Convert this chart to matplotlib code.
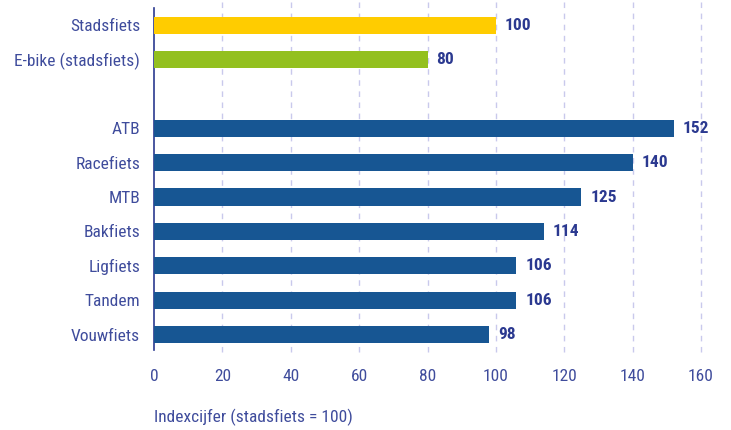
import numpy as np
import matplotlib
matplotlib.use("Agg")
import matplotlib.pyplot as plt

plt.rcParams['font.family'] = ['Roboto Condensed', 'DejaVu Sans']

# data, top to bottom (empty slot between the two groups)
categories = ["Stadsfiets", "E-bike (stadsfiets)", "", "ATB", "Racefiets", "MTB",
              "Bakfiets", "Ligfiets", "Tandem", "Vouwfiets"]
values = [100, 80, None, 152, 140, 125, 114, 106, 106, 98]
colors = ["#FFCC00", "#93C01F", None] + ["#175693"] * 7

label_col = "#3F4C9C"
value_col = "#2B3990"
grid_col = "#C9C9EC"

fig = plt.figure(figsize=(7.31, 4.30), dpi=100)
ax = fig.add_axes([154 / 731, 1 - 350 / 430, (701 - 154) / 731, (350 - 8) / 430])

pos = np.arange(len(categories))
for p, v, c in zip(pos, values, colors):
    if v is None:
        continue
    ax.barh(p, v, height=0.5, color=c, zorder=3)
    ax.annotate(str(v), (v, p), xytext=(6.5, 0), textcoords="offset points",
                va="center", ha="left", fontsize=12.5, fontweight="bold",
                color=value_col)

ax.set_xlim(0, 160)
ax.set_ylim(9.45, -0.5)
ax.set_xticks(np.arange(0, 161, 20))
ax.set_yticks(pos)
ax.set_yticklabels(categories)

# dashed gridlines run a bit past the plot area (up to the top of the figure)
trans = ax.get_xaxis_transform()
ax.vlines(np.arange(20, 161, 20), -0.006, 1 + 8 / 342, transform=trans,
          color=grid_col, lw=1, ls=(0, (4, 4)), zorder=1, clip_on=False)

for s in ["top", "right", "bottom"]:
    ax.spines[s].set_visible(False)
ax.spines["left"].set_color("#2B3990")
ax.spines["left"].set_linewidth(1.2)

ax.tick_params(axis="y", length=0, pad=10, labelsize=12.5, labelcolor=label_col)
ax.tick_params(axis="x", length=0, pad=14, labelsize=12.5, labelcolor=label_col)

fig.text(154 / 731, 1 - 417 / 430, "Indexcijfer (stadsfiets = 100)",
         ha="left", va="center", fontsize=12.5, color=label_col)

fig.savefig("out.png", dpi=100)
